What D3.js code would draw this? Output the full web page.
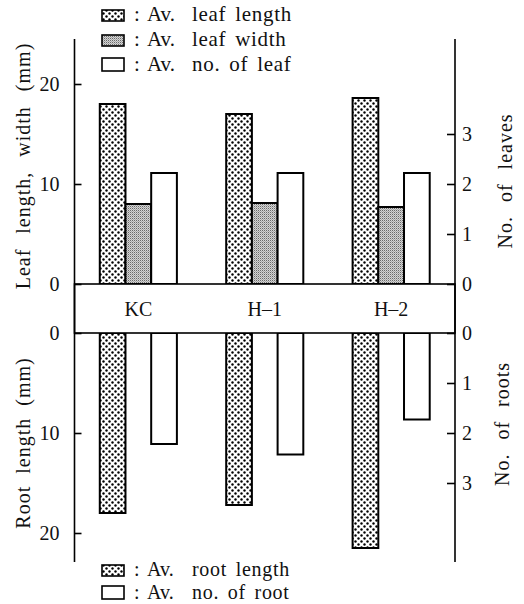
<!DOCTYPE html>
<html>
<head>
<meta charset="utf-8">
<script src="https://cdn.jsdelivr.net/npm/d3@7"></script>
<style>
  html, body { margin: 0; padding: 0; background: #fff; }
  svg { display: block; }
  text { font-family: "Liberation Serif", "Times New Roman", "DejaVu Serif", serif; fill: #111; }
</style>
</head>
<body>
<div id="chart"></div>
<script>
// Seedling measurements per line
const categories = ["KC", "H\u20131", "H\u20132"];
const leafLength = [18.0, 17.0, 18.6];   // mm
const leafWidth = [8.0, 8.1, 7.7];       // mm
const leafNumber = [2.22, 2.22, 2.22];   // count
const rootLength = [18.0, 17.2, 21.5];   // mm
const rootNumber = [2.22, 2.43, 1.73];   // count

const mmTicks = [0, 10, 20];
const countTicks = [0, 1, 2, 3];

const topLegend = [
  { key: "dots", label: "leaf length" },
  { key: "gray", label: "leaf width" },
  { key: "white", label: "no.  of  leaf" }
];
const bottomLegend = [
  { key: "dots", label: "root length" },
  { key: "white", label: "no.  of  root" }
];

const W = 524, H = 604;
const xLeft = 74.5, xRight = 455;
const topZero = 284, bandBottom = 333;
const axisTop = 39, axisBottom = 562;

const svg = d3.select("#chart").append("svg")
  .attr("width", W).attr("height", H);

// Fill patterns: dotted screen and fine grey stipple
const defs = svg.append("defs");
const dots = defs.append("pattern").attr("id", "dots")
  .attr("patternUnits", "userSpaceOnUse").attr("width", 6).attr("height", 6);
dots.append("rect").attr("width", 6).attr("height", 6).attr("fill", "#fff");
dots.append("circle").attr("cx", 1.5).attr("cy", 1.5).attr("r", 1.2).attr("fill", "#000");
dots.append("circle").attr("cx", 4.5).attr("cy", 4.5).attr("r", 1.2).attr("fill", "#000");

const gray = defs.append("pattern").attr("id", "gray")
  .attr("patternUnits", "userSpaceOnUse").attr("width", 2).attr("height", 2);
gray.append("rect").attr("width", 2).attr("height", 2).attr("fill", "#d4d4d4");
gray.append("rect").attr("width", 1).attr("height", 1).attr("fill", "#6a6a6a");
gray.append("rect").attr("x", 1).attr("y", 1).attr("width", 1).attr("height", 1).attr("fill", "#a8a8a8");

const fills = { dots: "url(#dots)", gray: "url(#gray)", white: "#fff" };

// Scales
const x = d3.scaleBand().domain(categories).range([xLeft, xRight])
  .paddingInner(0.39).paddingOuter(0.2);
const sub = d3.scaleBand().domain([0, 1, 2]).range([0, x.bandwidth()]);

const yTopMM = d3.scaleLinear().domain([0, 24.5]).range([topZero, topZero - 245]);
const yTopN = d3.scaleLinear().domain([0, 4.9]).range([topZero, topZero - 245]);
const yBotMM = d3.scaleLinear().domain([0, 23]).range([bandBottom, bandBottom + 230]);
const yBotN = d3.scaleLinear().domain([0, 4.6]).range([bandBottom, bandBottom + 230]);

// Bars
function bars(values, slot, scale, key, downward) {
  svg.append("g").selectAll("rect").data(values).join("rect")
    .attr("x", (d, i) => x(categories[i]) + sub(slot))
    .attr("width", sub.bandwidth())
    .attr("y", d => downward ? scale(0) : scale(d))
    .attr("height", d => Math.abs(scale(d) - scale(0)))
    .attr("fill", fills[key])
    .attr("stroke", "#000").attr("stroke-width", 2);
}
bars(leafLength, 0, yTopMM, "dots", false);
bars(leafWidth, 1, yTopMM, "gray", false);
bars(leafNumber, 2, yTopN, "white", false);
bars(rootLength, 0, yBotMM, "dots", true);
bars(rootNumber, 2, yBotN, "white", true);

// Central band with category names
svg.append("rect")
  .attr("x", xLeft).attr("y", topZero)
  .attr("width", xRight - xLeft).attr("height", bandBottom - topZero)
  .attr("fill", "#fff").attr("stroke", "#000").attr("stroke-width", 1.6);
svg.append("g").selectAll("text").data(categories).join("text")
  .attr("x", d => x(d) + x.bandwidth() / 2)
  .attr("y", (topZero + bandBottom) / 2 + 7)
  .attr("text-anchor", "middle")
  .style("font-size", "20px")
  .text(d => d);

// Full-height vertical axis lines
[xLeft, xRight].forEach(px => {
  svg.append("line").attr("x1", px).attr("x2", px)
    .attr("y1", axisTop).attr("y2", axisBottom)
    .attr("stroke", "#000").attr("stroke-width", 1.6);
});

function styleAxis(g) {
  g.select(".domain").remove();
  g.selectAll(".tick line").attr("stroke", "#000").attr("stroke-width", 1.6);
  g.selectAll(".tick text").style("font-size", "20px")
    .style("font-family", "'Liberation Serif', 'Times New Roman', serif").attr("fill", "#111");
}

svg.append("g").attr("transform", `translate(${xLeft},0)`)
  .call(d3.axisLeft(yTopMM).tickValues(mmTicks).tickFormat(d3.format("d"))
    .tickSizeInner(-7).tickSizeOuter(0).tickPadding(15))
  .call(styleAxis);
svg.append("g").attr("transform", `translate(${xLeft},0)`)
  .call(d3.axisLeft(yBotMM).tickValues(mmTicks).tickFormat(d3.format("d"))
    .tickSizeInner(-7).tickSizeOuter(0).tickPadding(15))
  .call(styleAxis);
svg.append("g").attr("transform", `translate(${xRight},0)`)
  .call(d3.axisRight(yTopN).tickValues(countTicks).tickFormat(d3.format("d"))
    .tickSizeInner(-8).tickSizeOuter(0).tickPadding(7))
  .call(styleAxis);
svg.append("g").attr("transform", `translate(${xRight},0)`)
  .call(d3.axisRight(yBotN).tickValues(countTicks).tickFormat(d3.format("d"))
    .tickSizeInner(-8).tickSizeOuter(0).tickPadding(7))
  .call(styleAxis);

// Axis titles
function vTitle(txt, px, py, ws) {
  svg.append("text")
    .attr("transform", `translate(${px},${py}) rotate(-90)`)
    .attr("text-anchor", "middle")
    .style("font-size", "20px")
    .style("letter-spacing", "1px")
    .style("word-spacing", ws + "px")
    .text(txt);
}
vTitle("Leaf length, width (mm)", 30, 166, 9);
vTitle("Root length (mm)", 30, 443, 6);
vTitle("No. of leaves", 512, 181, 8);
vTitle("No. of roots", 509, 424, 8);

// Legends
function legend(items, baselines, fs) {
  items.forEach((it, i) => {
    const b = baselines[i];
    const tall = it.key === "white";
    svg.append("rect")
      .attr("x", 102).attr("y", tall ? b - 13 : b - 11)
      .attr("width", 22).attr("height", tall ? 13 : 11)
      .attr("fill", fills[it.key]).attr("stroke", "#000").attr("stroke-width", 1.6);
    svg.append("text").attr("x", 134).attr("y", b).style("font-size", fs + "px").text(":");
    svg.append("text").attr("x", 147).attr("y", b).style("font-size", fs + "px").text("Av.");
    svg.append("text").attr("x", 192).attr("y", b).style("font-size", fs + "px")
      .style("letter-spacing", "0.7px").style("word-spacing", "3px").text(it.label);
  });
}
legend(topLegend, [21, 46, 71], 21);
legend(bottomLegend, [576, 599], 20);
</script>
</body>
</html>
